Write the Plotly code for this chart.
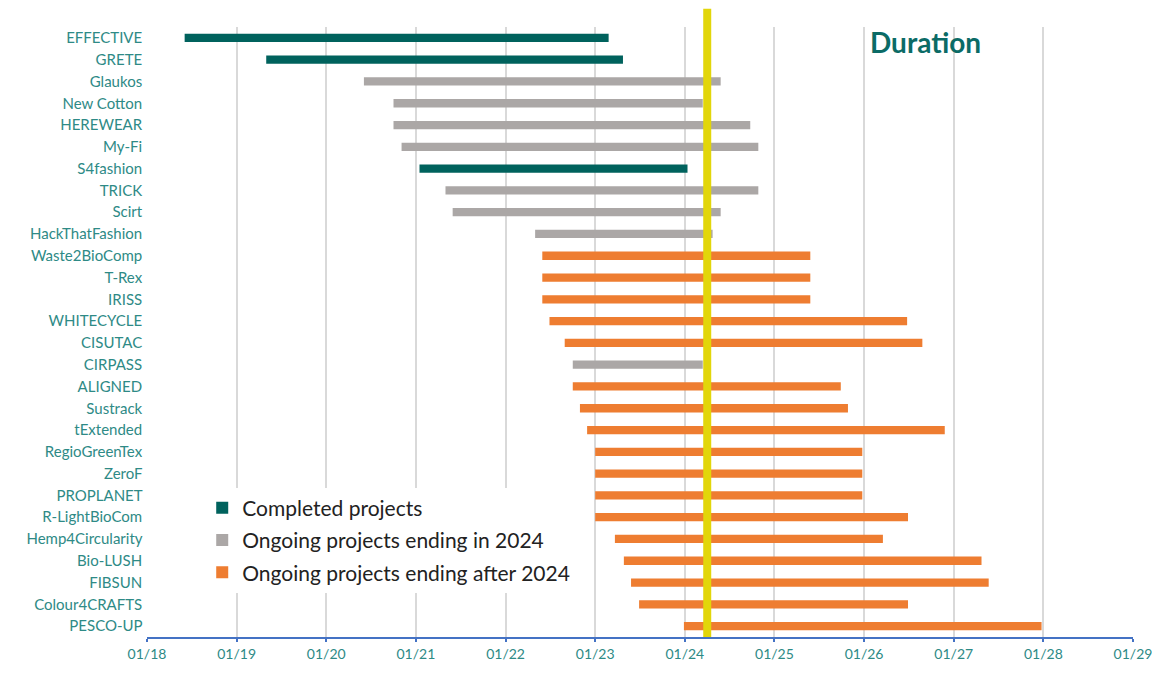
import plotly.graph_objects as go

projects = ["EFFECTIVE", "GRETE", "Glaukos", "New Cotton", "HEREWEAR", "My-Fi", "S4fashion",
            "TRICK", "Scirt", "HackThatFashion", "Waste2BioComp", "T-Rex", "IRISS", "WHITECYCLE",
            "CISUTAC", "CIRPASS", "ALIGNED", "Sustrack", "tExtended", "RegioGreenTex", "ZeroF",
            "PROPLANET", "R-LightBioCom", "Hemp4Circularity", "Bio-LUSH", "FIBSUN",
            "Colour4CRAFTS", "PESCO-UP"]
# start / end as decimal years
start = [2018.42, 2019.33, 2020.42, 2020.75, 2020.75, 2020.84, 2021.04,
         2021.33, 2021.41, 2022.33, 2022.41, 2022.41, 2022.41, 2022.49,
         2022.66, 2022.75, 2022.75, 2022.83, 2022.91, 2023.0, 2023.0,
         2023.0, 2023.0, 2023.22, 2023.32, 2023.40,
         2023.49, 2023.99]
end = [2023.15, 2023.31, 2024.40, 2024.20, 2024.73, 2024.82, 2024.03,
       2024.82, 2024.40, 2024.31, 2025.40, 2025.40, 2025.40, 2026.48,
       2026.65, 2024.20, 2025.74, 2025.82, 2026.90, 2025.98, 2025.98,
       2025.98, 2026.49, 2026.21, 2027.31, 2027.39,
       2026.49, 2027.98]
status = ["done", "done", "2024", "2024", "2024", "2024", "done",
          "2024", "2024", "2024", "after", "after", "after", "after",
          "after", "2024", "after", "after", "after", "after", "after",
          "after", "after", "after", "after", "after",
          "after", "after"]
today = 2024.25
year_ticks = list(range(2018, 2030))
tick_labels = ["01/%02d" % (y % 100) for y in year_ticks]

groups = [("done", "Completed projects", "#00625d"),
          ("2024", "Ongoing projects ending in 2024", "#aba7a6"),
          ("after", "Ongoing projects ending after 2024", "#ee7d31")]

font_family = "Lato, 'Open Sans', sans-serif"
label_color = "#2e8a86"

fig = go.Figure()
for i, (key, name, color) in enumerate(groups):
    ys = [p for p, s in zip(projects, status) if s == key]
    bs = [a for a, s in zip(start, status) if s == key]
    ln = [b - a for a, b, s in zip(start, end, status) if s == key]
    fig.add_trace(go.Bar(y=ys, x=ln, base=bs, orientation="h", name=name,
                         marker=dict(color=color, line=dict(width=0)),
                         width=0.38, legendgroup=key))

fig.add_shape(type="line", xref="x", yref="paper", x0=today, x1=today, y0=0, y1=1.03,
              line=dict(color="#e2d60a", width=8), layer="above")

fig.add_annotation(text="<b>Duration</b>", xref="paper", yref="paper", x=0.731, y=0.975,
                   xanchor="left", yanchor="middle", showarrow=False,
                   font=dict(family=font_family, size=28, color="#0b6b66"))

fig.update_layout(
    width=1144, height=657,
    margin=dict(l=139, r=19, t=19, b=28, autoexpand=False),
    paper_bgcolor="white", plot_bgcolor="white",
    barmode="overlay",
    font=dict(family=font_family, color=label_color),
    showlegend=True,
    legend=dict(x=0.056, y=0.245, xanchor="left", yanchor="top",
                bgcolor="white", font=dict(family=font_family, size=21, color="#222222"),
                traceorder="grouped", tracegroupgap=2, itemwidth=30),
    xaxis=dict(range=[2018, 2029], tickvals=year_ticks, ticktext=tick_labels,
               showgrid=True, gridcolor="#d9d9d9", gridwidth=1.5,
               showline=True, linecolor="#4472c4", linewidth=1.5,
               ticks="outside", ticklen=3, tickcolor="#4472c4", tickwidth=1.5,
               tickfont=dict(size=14, color=label_color), zeroline=False,
               automargin=False, ticklabeloverflow="allow"),
    yaxis=dict(categoryorder="array", categoryarray=projects, autorange=False,
               range=[27.5, -0.5], showgrid=False, showline=False, ticks="",
               tickfont=dict(size=15, color=label_color), ticksuffix=" ",
               automargin=False),
)

fig.write_html("out.html")
